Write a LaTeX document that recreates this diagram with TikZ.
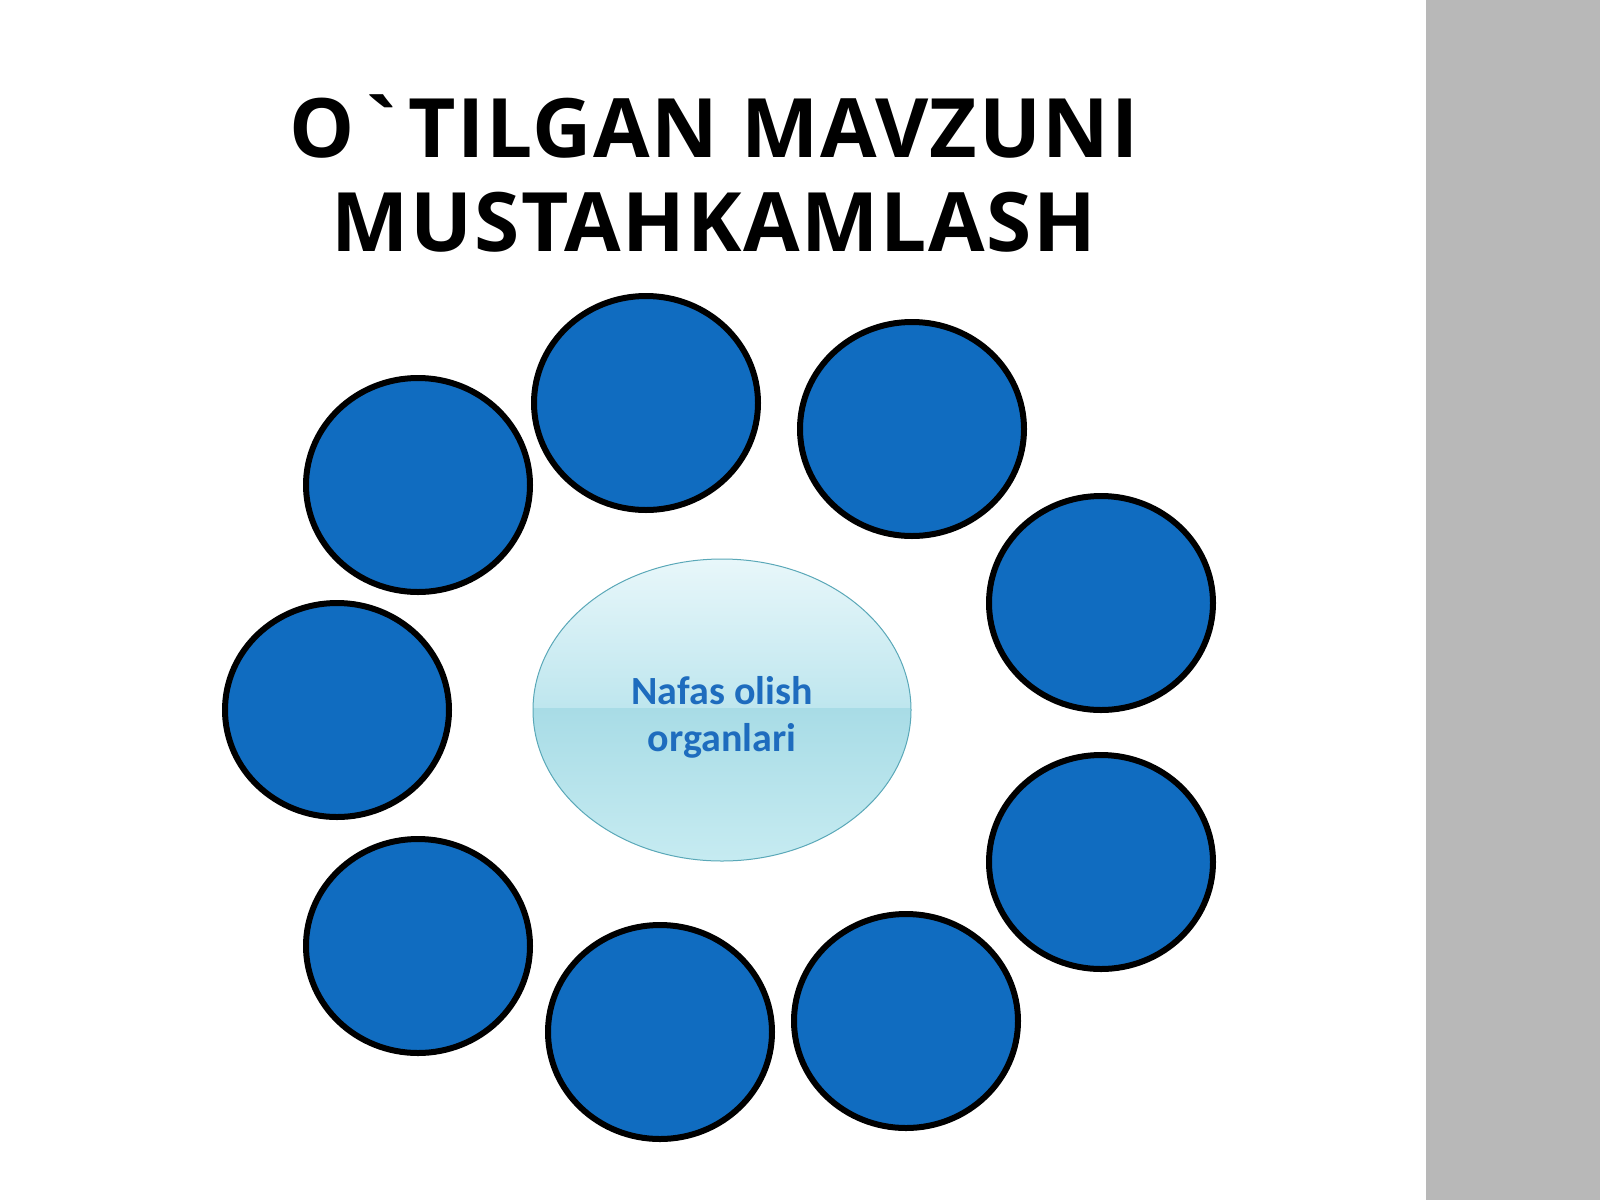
\documentclass[tikz,border=0pt]{standalone}
\usepackage{fontspec}
\usetikzlibrary{shapes.geometric}
\setmainfont{Open Sans}
\newfontfamily\titlefont[LetterSpace=2]{Open Sans Bold}
\newfontfamily\labelfont{Carlito Bold}
\definecolor{dotblue}{RGB}{16,108,192}
\definecolor{bandgray}{RGB}{184,184,184}
\definecolor{elltop}{RGB}{232,247,250}
\definecolor{ellmid}{RGB}{190,230,238}
\definecolor{elllow}{RGB}{168,220,230}
\definecolor{ellbot}{RGB}{198,235,241}
\definecolor{ellline}{RGB}{90,168,184}
\definecolor{labelblue}{RGB}{30,108,190}
\begin{document}
\begin{tikzpicture}[x=1pt,y=-1pt,
  dot/.style={ellipse,draw=black,line width=6pt,fill=dotblue,minimum width=224pt,minimum height=214pt,inner sep=0pt},
  title/.style={font=\titlefont\fontsize{82}{96}\selectfont,anchor=base,inner sep=0pt}]
\useasboundingbox (0,0) rectangle (1600,1200);
\fill[white] (0,0) rectangle (1600,1200);
\fill[bandgray] (1426,0) rectangle (1600,1200);
\node[title] (t1) at (714,157) {O`TILGAN MAVZUNI};
\node[title] (t2) at (714,251) {MUSTAHKAMLASH};
\node[dot] (c1) at (418,485) {};
\node[dot] (c2) at (646,403) {};
\node[dot] (c3) at (912,429) {};
\node[dot] (c4) at (1101,603) {};
\node[dot] (c5) at (337,710) {};
\node[dot] (c6) at (1101,862) {};
\node[dot] (c7) at (418,946) {};
\node[dot] (c8) at (660,1032) {};
\node[dot] (c9) at (906,1021) {};
% center ellipse with split gradient
\begin{scope}
\clip (722,710) ellipse [x radius=189, y radius=151];
\shade[top color=elltop,bottom color=ellmid] (533,559) rectangle (911,708);
\shade[top color=elllow,bottom color=ellbot] (533,708) rectangle (911,861);
\end{scope}
\node[ellipse,draw=ellline,line width=1pt,minimum width=378pt,minimum height=302pt,inner sep=0pt] (center) at (722,710) {};
\node[font=\labelfont\fontsize{40}{47}\selectfont,text=labelblue,align=center,inner sep=0pt] (label) at (722,717)
  {Nafas olish\\organlari};
\end{tikzpicture}
\end{document}
